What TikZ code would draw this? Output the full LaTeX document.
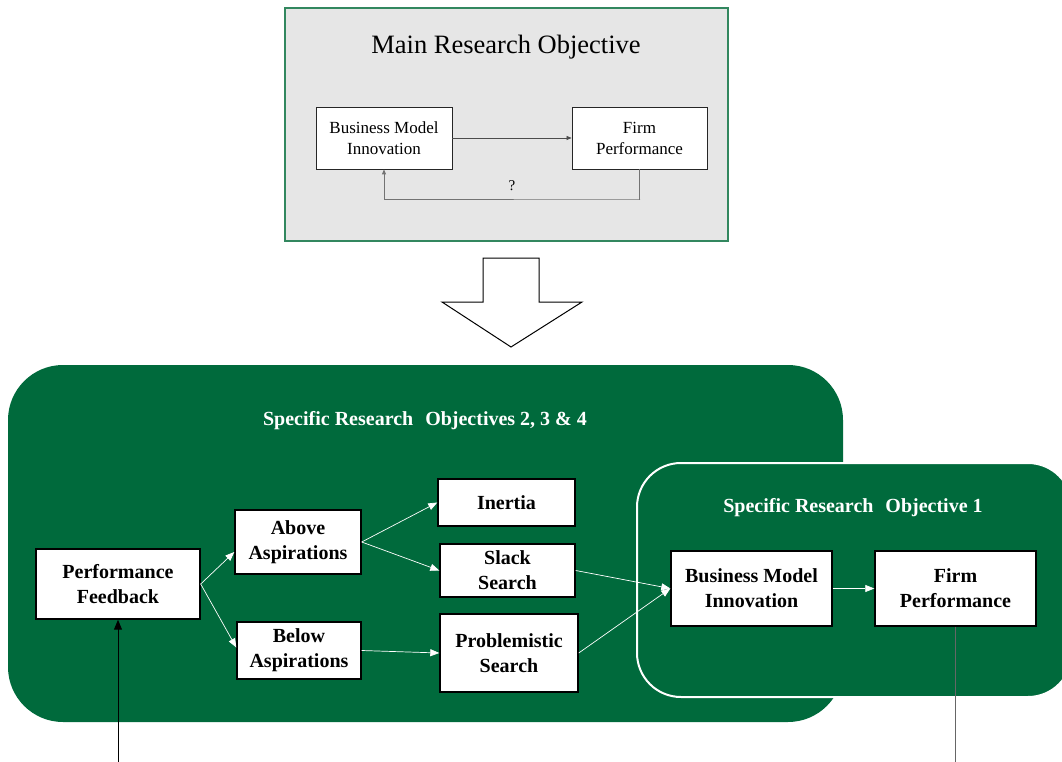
\documentclass[tikz,border=0pt]{standalone}
\usepackage{fontspec}
\setmainfont{Liberation Serif}
\usetikzlibrary{arrows.meta}
\definecolor{dgreen}{RGB}{0,106,60}
\definecolor{bordergreen}{RGB}{50,135,95}
\definecolor{lgray}{RGB}{230,230,230}
\begin{document}
\begin{tikzpicture}[x=1pt,y=-1pt,
 wbox/.style={draw=black, line width=1.4pt, fill=white, inner sep=0pt, font=\fontsize{20}{25}\selectfont\bfseries, align=center},
 tbox/.style={draw=black!85, line width=0.8pt, fill=white, inner sep=0pt, font=\fontsize{17}{21}\selectfont, align=center},
 warr/.style={draw=white, line width=0.7pt, -{Triangle[length=9pt,width=7pt]}},
 gtitle/.style={text=white, font=\fontsize{20}{24}\selectfont\bfseries}]
\useasboundingbox (0,0) rectangle (1062,762);

% top box
\node[draw=bordergreen, line width=1.5pt, fill=lgray, minimum width=443pt, minimum height=233pt, inner sep=0pt] (main) at (506.5,124.5) {};
\node[font=\fontsize{26.5}{30}\selectfont] (maintitle) at (506,47) {Main Research Objective};
\node[tbox, minimum width=136pt, minimum height=62pt] (tbmi) at (384,138) {Business Model\\Innovation};
\node[tbox, minimum width=135pt, minimum height=62pt] (tfp) at (639.5,138) {Firm\\Performance};
\draw[draw=black!70, line width=0.6pt, -{Triangle[length=5pt,width=4pt]}] (tbmi) -- (tfp);
\coordinate (fbk) at (640,199);
\draw[draw=black!55, line width=0.8pt, -{Triangle[length=5pt,width=4pt]}] (tfp.south) |- (fbk) -| (tbmi.south);
\node[font=\fontsize{15}{18}\selectfont] (q) at (512,186) {?};

% hollow arrow
\draw[line width=1pt, fill=white] (483,258) -- (539,258) -- (539,302) -- (582,302) -- (511,347) -- (442,302) -- (483,302) -- cycle;

% green areas
\fill[dgreen, rounded corners=55pt] (8,365) rectangle (843,722);
\node[gtitle] (t234) at (425,421) {Specific Research\hspace{0.35em} Objectives 2, 3 \& 4};
\draw[fill=dgreen, draw=white, line width=2pt, rounded corners=44pt] (637,463) rectangle (1072,697);
\node[gtitle] (t1) at (853,508) {Specific Research\hspace{0.35em} Objective 1};

% boxes
\node[wbox, minimum width=164pt, minimum height=70pt] (pf) at (118,584) {Performance\\Feedback};
\node[wbox, minimum width=126pt, minimum height=64pt] (above) at (298,542) {Above\\Aspirations};
\node[wbox, minimum width=124pt, minimum height=57pt] (below) at (299,650.5) {Below\\Aspirations};
\node[wbox, minimum width=137pt, minimum height=47pt] (inertia) at (506.5,502.5) {Inertia};
\node[wbox, minimum width=135pt, minimum height=53pt] (slack) at (507.5,570.5) {Slack\\Search};
\node[wbox, minimum width=138pt, minimum height=78pt] (prob) at (509,653) {Problemistic\\Search};
\node[wbox, minimum width=161pt, minimum height=75pt] (bmi) at (751.5,588.5) {Business Model\\Innovation};
\node[wbox, minimum width=161pt, minimum height=75pt] (fp) at (955.5,588.5) {Firm\\Performance};

% white arrows
\draw[warr] (pf.east) -- ([yshift=-10pt]above.west);
\draw[warr] (pf.east) -- ([yshift=3pt]below.west);
\draw[warr] (above.east) -- (inertia.west);
\draw[warr] (above.east) -- (slack.west);
\draw[warr] (below.east) -- (prob.west);
\draw[warr] (slack.east) -- (bmi.west);
\draw[warr] (prob.east) -- (bmi.west);
\draw[warr] (bmi) -- (fp);

% bottom lines
\coordinate (in1) at (118,762);
\coordinate (out1) at (955.5,762);
\draw[black, line width=1pt, -{Triangle[length=10pt,width=8pt]}] (in1) -- (pf.south);
\draw[black!60, line width=1pt] (fp.south) -- (out1);
\end{tikzpicture}
\end{document}
